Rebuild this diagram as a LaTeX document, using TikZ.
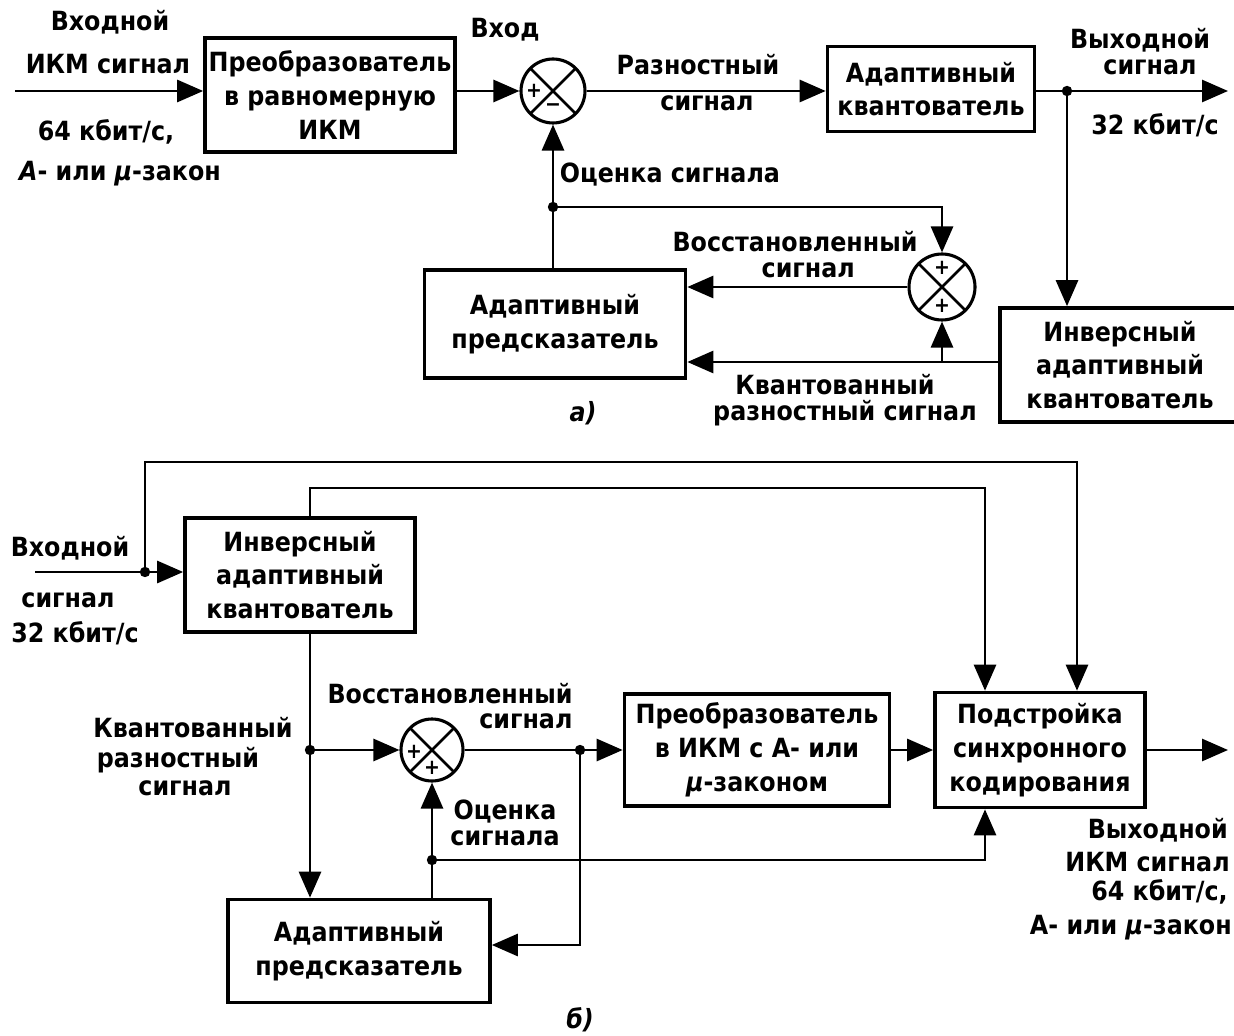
\documentclass[tikz,border=0pt]{standalone}
\usepackage{fontspec}
\setmainfont{DejaVu Sans Condensed}
\usetikzlibrary{arrows.meta,calc}
\newlength\edin
\setlength\edin{0.025cm}
\tikzset{
  blok/.style 2 args={draw, line width=2.6pt, align=center, inner sep=0pt,
    minimum width=#1*\edin, minimum height=#2*\edin},
  summa/.style={circle, draw, line width=2.2pt, inner sep=0pt, minimum size=#1*\edin,
    path picture={\draw[line width=1.8pt]
      (path picture bounding box.north west) -- (path picture bounding box.south east)
      (path picture bounding box.north east) -- (path picture bounding box.south west);}},
  svyaz/.style={line width=2pt},
  strelka/.style={svyaz, -{Triangle[length=0.65cm,width=0.55cm]}},
  znak/.style={inner sep=0pt, font=\bfseries\fontsize{15}{15}\selectfont},
  podpis/.style={inner sep=0pt, align=center}
}
\begin{document}
\begin{tikzpicture}[x=0.025cm, y=-0.025cm, font=\bfseries\fontsize{18.8}{24}\selectfont]
  \useasboundingbox (0,0) rectangle (1234,1036);

  % a) coder
  \node[blok={250}{114}] (preo) at (330,95) {Преобразователь\\в равномерную\\ИКМ};
  \node[summa=64] (sum1) at (553,91) {};
  \node[blok={207}{85}] (kvant) at (931,89) {Адаптивный\\квантователь};
  \node[summa=66] (sum2) at (942,287) {};
  \node[blok={261}{108}] (pred) at (555,324) {Адаптивный\\предсказатель};
  \node[blok={240}{114}] (invkv) at (1120,365) {Инверсный\\адаптивный\\квантователь};
  \node[znak] at ($(sum1)+(-19,0)$) {+};
  \node[znak] at ($(sum1)+(0,17)$) {−};
  \node[znak] at ($(sum2)+(0,-19)$) {+};
  \node[znak] at ($(sum2)+(0,19)$) {+};

  \coordinate (vh1) at (15,91);
  \coordinate (vyh1) at (1228,91);
  \coordinate (j1) at (1067,91);
  \coordinate (j2) at (553,207);
  \coordinate (j3) at (942,362);

  \draw[strelka] (vh1) -- (preo.west |- vh1);
  \draw[strelka] (preo.east |- sum1) -- (sum1);
  \draw[strelka] (sum1) -- (kvant.west |- sum1);
  \draw[strelka] (kvant.east |- j1) -- (vyh1);
  \draw[strelka] (j1) -- (j1 |- invkv.north);
  \draw[svyaz] (invkv.west |- j3) -- (j3);
  \draw[strelka] (j3) -- (pred.east |- j3);
  \draw[strelka] (j3) -- (sum2);
  \draw[strelka] (sum2) -- (pred.east |- sum2);
  \draw[strelka] (pred.north -| sum1) -- (sum1);
  \draw[strelka] (j2) -| (sum2);

  \node[podpis] (vhod1) at (110,22) {Входной};
  \node[podpis] (ikm1) at (108,64) {ИКМ сигнал};
  \node[podpis] (skor1) at (106,132) {64 кбит/с,};
  \node[podpis] (zakon1) at (120,174) {\textit{A}- или \textit{μ}-закон};
  \node[podpis] (vhod) at (505,30) {Вход};
  \node[podpis] (razn) at (698,65) {Разностный};
  \node[podpis] (razn2) at (707,103) {сигнал};
  \node[podpis] (vyhod1) at (1140,40) {Выходной};
  \node[podpis] (vyhod2) at (1150,67) {сигнал};
  \node[podpis] (skor2) at (1155,125) {32 кбит/с};
  \node[podpis] (ocen1) at (670,175) {Оценка сигнала};
  \node[podpis, font=\bfseries\fontsize{18.8}{18.5}\selectfont] (vost1) at (795,255)
    {Восстановленный\\\hspace*{1em}сигнал};
  \node[podpis] (kvs1) at (835,385) {Квантованный};
  \node[podpis] (kvs2) at (845,413) {разностный сигнал};
  \node[podpis] (bukva1) at (583,413) {\textit{а)}};

  % b) decoder
  \node[blok={230}{114}] (inv2) at (300,575) {Инверсный\\адаптивный\\квантователь};
  \node[summa=62] (sum3) at (432,750) {};
  \node[blok={265}{112}] (conv) at (757,750) {Преобразователь\\в ИКМ с А- или\\\textit{μ}-законом};
  \node[blok={210}{115}] (sync) at (1040,750) {Подстройка\\синхронного\\кодирования};
  \node[blok={262}{103}] (pred2) at (359,951) {Адаптивный\\предсказатель};
  \node[znak] at ($(sum3)+(-18,2)$) {+};
  \node[znak] at ($(sum3)+(0,18)$) {+};

  \coordinate (vh2) at (35,572);
  \coordinate (vyh2) at (1228,750);
  \coordinate (j4) at (145,572);
  \coordinate (j5) at (310,750);
  \coordinate (j6) at (580,750);
  \coordinate (j7) at (432,860);
  \coordinate (ug1) at (1077,462);
  \coordinate (ug2) at (985,488);
  \coordinate (ug3) at (580,945);
  \coordinate (ug4) at (985,860);

  \draw[svyaz] (vh2) -- (j4);
  \draw[strelka] (j4) -- (inv2.west |- j4);
  \draw[strelka] (j4) |- (ug1) -- (ug1 |- sync.north);
  \draw[strelka] (inv2.north -| j5) |- (ug2) -- (ug2 |- sync.north);
  \draw[strelka] (inv2.south -| j5) -- (pred2.north -| j5);
  \draw[strelka] (j5) -- (sum3);
  \draw[svyaz] (sum3) -- (j6);
  \draw[strelka] (j6) -- (conv.west |- j6);
  \draw[strelka] (j6) -- (ug3) -- (pred2.east |- ug3);
  \draw[strelka] (conv) -- (sync);
  \draw[strelka] (sync.east |- vyh2) -- (vyh2);
  \draw[strelka] (pred2.north -| sum3) -- (sum3);
  \draw[strelka] (j7) -- (ug4) -- (ug4 |- sync.south);

  % junctions
  \foreach \t in {j1, j2, j4, j5, j6, j7} {
    \fill (\t) circle (0.13cm);
  }

  \node[podpis] (vhod3) at (70,548) {Входной};
  \node[podpis] (vhod4) at (68,600) {сигнал};
  \node[podpis] (skor3) at (75,633) {32 кбит/с};
  \node[podpis, align=right, font=\bfseries\fontsize{18.8}{17.5}\selectfont] (vost3) at (450,706)
    {Восстановленный\\сигнал};
  \node[podpis] (kvs3) at (193,728) {Квантованный};
  \node[podpis] (kvs4) at (178,760) {разностный};
  \node[podpis] (kvs5) at (185,788) {сигнал};
  \node[podpis] (ocen2) at (505,812) {Оценка};
  \node[podpis] (ocen3) at (505,838) {сигнала};
  \node[podpis, anchor=east] (vyhod3) at (1228,830) {Выходной};
  \node[podpis, anchor=east] (ikm2) at (1230,862) {ИКМ сигнал};
  \node[podpis, anchor=east] (skor4) at (1228,892) {64 кбит/с,};
  \node[podpis, anchor=east] (zakon2) at (1232,928) {А- или \textit{μ}-закон};
  \node[podpis] (bukva2) at (580,1020) {\textit{б)}};
\end{tikzpicture}
\end{document}
